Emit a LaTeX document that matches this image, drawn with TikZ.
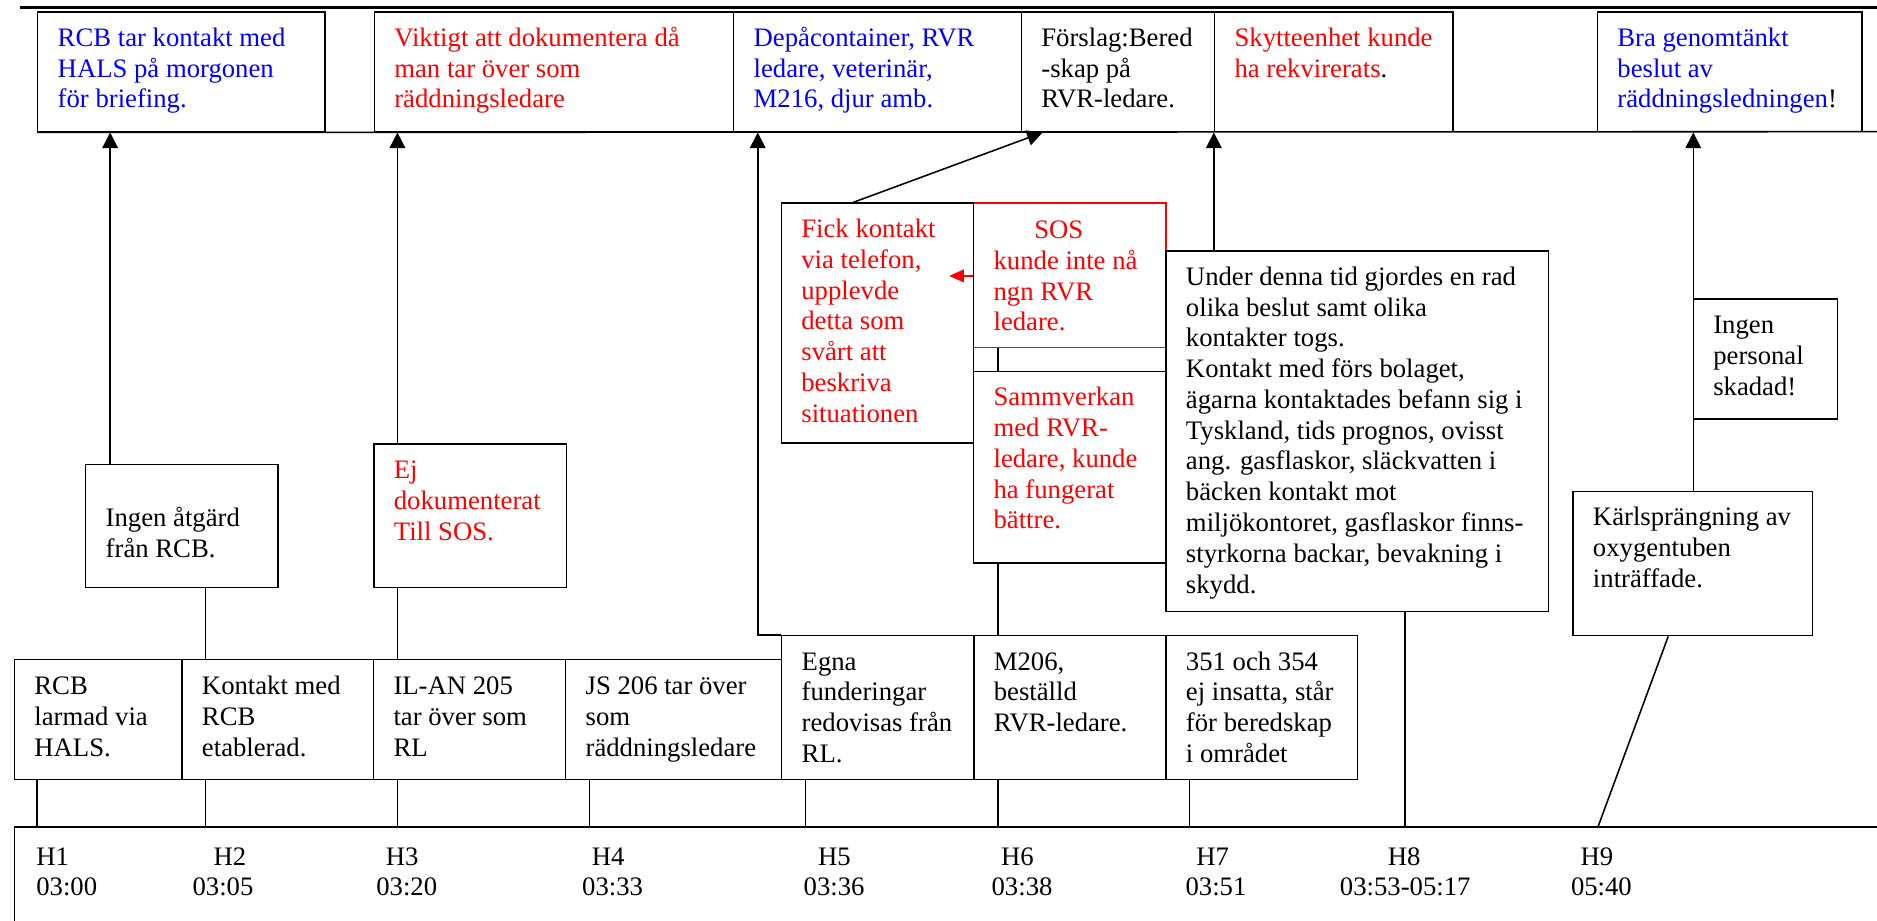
\documentclass[tikz,border=0pt]{standalone}
\usepackage{fontspec}
\setmainfont{Liberation Serif}
\usetikzlibrary{arrows.meta,fit}
\newcommand{\fst}{\rule{0pt}{15.6pt}}
\begin{document}
\begin{tikzpicture}[x=0.538pt,y=-0.538pt,
  bx/.style={draw,line width=0.7pt,inner sep=0pt},
  tx/.style={anchor=north west,inner sep=0pt,align=left,xshift=9.15pt,font=\fontsize{12pt}{13.83pt}\selectfont},
  lbl/.style={anchor=base west,inner sep=0pt,font=\fontsize{12pt}{13.83pt}\selectfont},
  ln/.style={line width=0.7pt},
  arr/.style={line width=0.7pt,-{Triangle[length=7pt,width=7pt]}},
  rarr/.style={line width=0.7pt,draw=red,-{Triangle[length=6.5pt,width=5.7pt]},red}]
\useasboundingbox (0,0) rectangle (1568,769);
% helper x positions
\coordinate (c1) at (92,0);
\coordinate (c2) at (332,0);
\coordinate (c3) at (633,0);
\coordinate (c4) at (1014,0);
\coordinate (c5) at (1414.5,0);
\coordinate (c6) at (171.6,0);
\coordinate (c7) at (833.7,0);
\coordinate (f1) at (712.5,0);
\coordinate (f2) at (871,0);
\coordinate (t1) at (31,0);
\coordinate (t4) at (492.6,0);
\coordinate (t5) at (673,0);
\coordinate (t7) at (993.7,0);
\coordinate (h8) at (1173.7,0);
\coordinate (k1) at (1393.6,0);
\coordinate (k2) at (1334.8,0);
\coordinate (tl) at (0,691);
\coordinate (r1) at (0,230.5);
\coordinate (r2) at (793,230.5);
\coordinate (rowend) at (1568,110);

% top rule
\draw[line width=1.2pt] (17,6.5) -- (1568,6.5);

% top row boxes
\node[bx,fit={(31.5,10) (271.5,110)}] (A) {};
\node[bx,fit={(312.7,10) (612.9,110)}] (B) {};
\node[bx,fit={(612.9,10) (853.2,110)}] (C) {};
\node[bx,fit={(853.2,10) (1014.6,110)}] (D) {};
\node[bx,fit={(1014.6,10) (1214,110)}] (E) {};
\node[bx,fit={(1334.4,10) (1555.3,110)}] (F) {};
\draw[ln] (A.south west) -- (rowend);

\node[tx,text=blue] (tA) at (A.north west) {\fst RCB tar kontakt med\\HALS på morgonen\\för briefing.};
\node[tx,text=red] (tB) at (B.north west) {\fst Viktigt att dokumentera då\\man tar över som\\räddningsledare};
\node[tx,text=blue] (tC) at (C.north west) {\fst Depåcontainer, RVR\\ledare, veterinär,\\M216, djur amb.};
\node[tx] (tD) at (D.north west) {\fst Förslag:Bered\\-skap på\\RVR-ledare.};
\node[tx,text=red] (tE) at (E.north west) {\fst Skytteenhet kunde\\ha rekvirerats\textcolor{black}{.}};
\node[tx,text=blue] (tF) at (F.north west) {\fst Bra genomtänkt\\beslut av\\räddningsledningen\textcolor{black}{!}};

% middle boxes
\node[bx,fit={(71.6,388) (232,490.7)}] (Ing) {};
\node[tx] (tIng) at (Ing.north west) {\rule{0pt}{28pt}Ingen åtgärd\\från RCB.};
\node[bx,fit={(312.3,371) (473.1,490.7)}] (Ej) {};
\node[tx,text=red] (tEj) at (Ej.north west) {\fst Ej\\dokumenterat\\Till SOS.};

\node[bx,draw=red,fit={(813.3,169.8) (974,290.3)}] (SOS) {};
\node[tx,text=red] (tSOS) at (SOS.north west) {\rule{0pt}{16pt}\hspace*{18.3pt}SOS\\kunde inte nå\\ngn RVR\\ledare.};
\node[bx,fit={(652.7,169.8) (813.3,370.2)}] (Fick) {};
\node[tx,text=red] (tFick) at (Fick.north west) {\fst Fick kontakt\\via telefon,\\upplevde\\detta som\\svårt att\\beskriva\\situationen};
\node[bx,fit={(813.3,310.3) (974,470.4)}] (Samm) {};
\node[tx,text=red] (tSamm) at (Samm.north west) {\fst Sammverkan\\med RVR-\\ledare, kunde\\ha fungerat\\bättre.};
\node[bx,fit={(974,209.6) (1293.7,510.8)}] (Big) {};
\node[tx] (tBig) at (Big.north west) {\fst Under denna tid gjordes en rad\\olika beslut samt olika\\kontakter togs.\\Kontakt med förs bolaget,\\ägarna kontaktades befann sig i\\Tyskland, tids prognos, ovisst\\ang. gasflaskor, släckvatten i\\bäcken kontakt mot\\miljökontoret, gasflaskor finns-\\styrkorna backar, bevakning i\\skydd.};
\node[bx,fit={(1414.5,250) (1535,350)}] (IngP) {};
\node[tx] (tIngP) at (IngP.north west) {\fst Ingen\\personal\\skadad!};
\node[bx,fit={(1314,410.6) (1514,530.9)}] (Karl) {};
\node[tx] (tKarl) at (Karl.north west) {\fst Kärlsprängning av\\oxygentuben\\inträffade.};

% bottom row boxes
\node[bx,fit={(12,551) (152,651)}] (H1b) {};
\node[tx] (tH1) at (H1b.north west) {\rule{0pt}{16pt}RCB\\larmad via\\HALS.};
\node[bx,fit={(152,551) (312,651)}] (H2b) {};
\node[tx] (tH2) at (H2b.north west) {\rule{0pt}{16pt}Kontakt med\\RCB\\etablerad.};
\node[bx,fit={(312,551) (472.5,651)}] (H3b) {};
\node[tx] (tH3) at (H3b.north west) {\rule{0pt}{16pt}IL-AN 205\\tar över som\\RL};
\node[bx,fit={(472.5,551) (653,651)}] (H4b) {};
\node[tx] (tH4) at (H4b.north west) {\rule{0pt}{16pt}JS 206 tar över\\som\\räddningsledare};
\node[bx,fit={(653,531) (813.5,651)}] (H5b) {};
\node[tx] (tH5) at (H5b.north west) {\fst Egna\\funderingar\\redovisas från\\RL.};
\node[bx,fit={(813.5,531) (974,651)}] (H6b) {};
\node[tx] (tH6) at (H6b.north west) {\fst M206,\\beställd\\RVR-ledare.};
\node[bx,fit={(974,531) (1134,651)}] (H7b) {};
\node[tx] (tH7) at (H7b.north west) {\fst 351 och 354\\ej insatta, står\\för beredskap\\i området};

% timeline
\draw[ln] (12,769) -- (12,691) -- (1568,691);

% ticks
\draw[ln] (H1b.south -| t1) -- (tl -| t1);
\draw[ln] (H2b.south -| c6) -- (tl -| c6);
\draw[ln] (H3b.south -| c2) -- (tl -| c2);
\draw[ln] (H4b.south -| t4) -- (tl -| t4);
\draw[ln] (H5b.south -| t5) -- (tl -| t5);
\draw[ln] (H6b.south -| c7) -- (tl -| c7);
\draw[ln] (H7b.south -| t7) -- (tl -| t7);
\draw[ln] (Big.south -| h8) -- (tl -| h8);
\draw[ln] (Karl.south -| k1) -- (tl -| k2);

% connectors
\draw[ln] (Ing.south -| c6) -- (H2b.north -| c6);
\draw[ln] (Ej.south -| c2) -- (H3b.north -| c2);
\draw[ln] (Samm.south -| c7) -- (H6b.north -| c7);
\draw[ln] (SOS.south -| c7) -- (Samm.north -| c7);

% arrows
\draw[arr] (Ing.north -| c1) -- (A.south -| c1);
\draw[arr] (Ej.north -| c2) -- (B.south -| c2);
\draw[arr] (H5b.north west) -- (H5b.north west -| c3) -- (C.south -| c3);
\draw[arr] (Fick.north -| f1) -- (D.south -| f2);
\draw[arr] (Big.north -| c4) -- (D.south -| c4);
\draw[arr] (Karl.north -| c5) -- (F.south -| c5);
\draw[rarr] (SOS.west |- r1) -- (r2);

% time labels
\node[lbl] (lh1) at (30,723) {H1};
\node[lbl] (lt1) at (30,748) {03:00};
\node[lbl] (lh2) at (178,723) {H2};
\node[lbl] (lt2) at (160.5,748) {03:05};
\node[lbl] (lh3) at (322,723) {H3};
\node[lbl] (lt3) at (314,748) {03:20};
\node[lbl] (lh4) at (494,723) {H4};
\node[lbl] (lt4) at (486,748) {03:33};
\node[lbl] (lh5) at (683,723) {H5};
\node[lbl] (lt5) at (671,748) {03:36};
\node[lbl] (lh6) at (836,723) {H6};
\node[lbl] (lt6) at (828,748) {03:38};
\node[lbl] (lh7) at (999,723) {H7};
\node[lbl] (lt7) at (990,748) {03:51};
\node[lbl] (lh8) at (1159,723) {H8};
\node[lbl] (lt8) at (1119,748) {03:53-05:17};
\node[lbl] (lh9) at (1320,723) {H9};
\node[lbl] (lt9) at (1312,748) {05:40};
\end{tikzpicture}
\end{document}
